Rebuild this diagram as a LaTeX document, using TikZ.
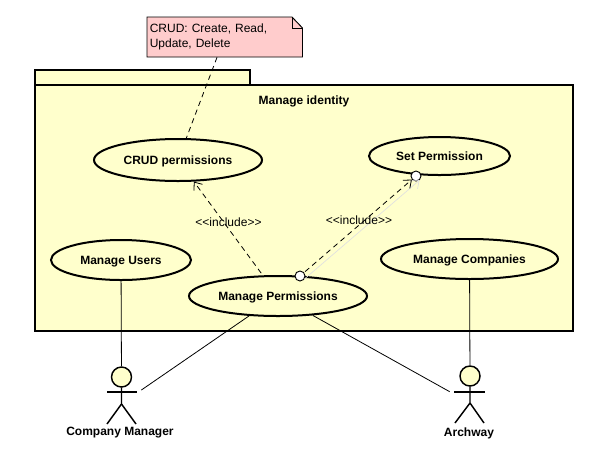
\documentclass[tikz,border=0pt]{standalone}
\usepackage{fontspec}
\setmainfont{Liberation Sans}
\usepackage{tikz}
\usetikzlibrary{arrows.meta,shapes.geometric}

\definecolor{usecaseyellow}{HTML}{FFFFCC}
\definecolor{notepink}{HTML}{FFCCCC}

\tikzset{
  usecase/.style={draw, ellipse, line width=1.5pt, fill=usecaseyellow, inner sep=0pt, text height=6.5pt, text depth=0pt, font=\bfseries\fontsize{9}{11}\selectfont},
  package/.style={draw, line width=1.5pt, fill=usecaseyellow},
  plaintext/.style={font=\fontsize{9}{11}\selectfont, inner sep=0pt},
  actorname/.style={font=\bfseries\fontsize{9}{11}\selectfont, inner sep=0pt},
  actorzone/.style={minimum width=30pt, minimum height=30pt, inner sep=0pt},
  actorhead/.style={draw, circle, line width=1.1pt, fill=usecaseyellow, minimum size=15pt, inner sep=0pt},
  port/.style={draw, circle, line width=.7pt, fill=white, minimum size=7.5pt, inner sep=0pt},
  link/.style={line width=.6pt},
  includes/.style={line width=.6pt, dash pattern=on 4pt off 3pt, -{Straight Barb[length=5pt,width=8pt]}}
}

\begin{document}
\begin{tikzpicture}[x=0.75pt, y=-0.75pt]
        \useasboundingbox (0,0) rectangle (607,455);

        \draw [package] (35,85) -- (35,70) -- (250,70) -- (250,85);  %tab
        \draw [package] (35,85) rectangle (573,331);                 %body
        \node [actorname] (title) at (304,101) {Manage identity};

        \node [usecase, minimum width=126pt, minimum height=31.5pt] (crud)        at (178,160) {CRUD permissions};
        \node [usecase, minimum width=105.75pt, minimum height=28.5pt] (setperm)  at (439.5,156) {Set Permission};
        \node [usecase, minimum width=105pt, minimum height=30pt] (users)         at (121,260) {Manage Users};
        \node [usecase, minimum width=132.75pt, minimum height=30pt] (companies)  at (469.5,259) {Manage Companies};
        \node [usecase, minimum width=133.5pt, minimum height=30pt] (permissions) at (278,296) {Manage Permissions};

        %note
        \node [minimum width=116.25pt, minimum height=30pt, inner sep=0pt] (note) at (224.75,37) {};
        \draw [line width=.7pt, fill=notepink] (147,17) -- (292,17) -- (302.5,28) -- (302.5,57) -- (147,57) -- cycle;
        \draw [line width=.7pt] (292,17) -- (292,28) -- (302.5,28);
        \node [plaintext, anchor=north west, align=left, text width=110pt, font=\fontsize{9}{11}\selectfont] (notetext) at (149.5,24) {CRUD: Create, Read,\\Update, Delete};
        \draw [link, dash pattern=on 4pt off 3pt] (note) -- (crud);

        %actors
        \node [actorzone] (manager) at (121,404) {};
        \node [actorhead] (managerhead) at (121.5,377) {};
        \draw [line width=1.1pt] (managerhead.south) -- (121.5,404) -- (107,424);
        \draw [line width=1.1pt] (121.5,404) -- (136,424);
        \draw [line width=1.1pt] (107,392) -- (137,392);
        \node [actorname] (managername) at (120,433) {Company Manager};

        \node [actorzone] (archway) at (470,403) {};
        \node [actorhead] (archwayhead) at (470,376) {};
        \draw [line width=1.1pt] (archwayhead.south) -- (470,403) -- (455,423);
        \draw [line width=1.1pt] (470,403) -- (484,423);
        \draw [line width=1.1pt] (454,392) -- (485,392);
        \node [actorname] (archwayname) at (469,433) {Archway};

        %associations
        \draw [link] (users) -- (managerhead);
        \draw [link] (companies) -- (archwayhead);
        \draw [link] (permissions) -- (manager);
        \draw [link] (permissions) -- (archway);

        %include
        \draw [includes, shorten <=2pt] (permissions) -- (crud);
        \node [port] (portfrom) at (300,276) {};
        \node [port] (portto)   at (416,176) {};
        \draw [line width=.5pt, black!12, -{Straight Barb[length=5pt,width=8pt]}] (portfrom.-30) -- (portto.-50);
        \draw [includes, shorten <=1pt] (portfrom) -- (portto);
        \node [plaintext] (includea) at (228.5,222.5) {<{}<include>{}>};
        \node [plaintext] (includeb) at (359,220.5) {<{}<include>{}>};
      \end{tikzpicture}
\end{document}
